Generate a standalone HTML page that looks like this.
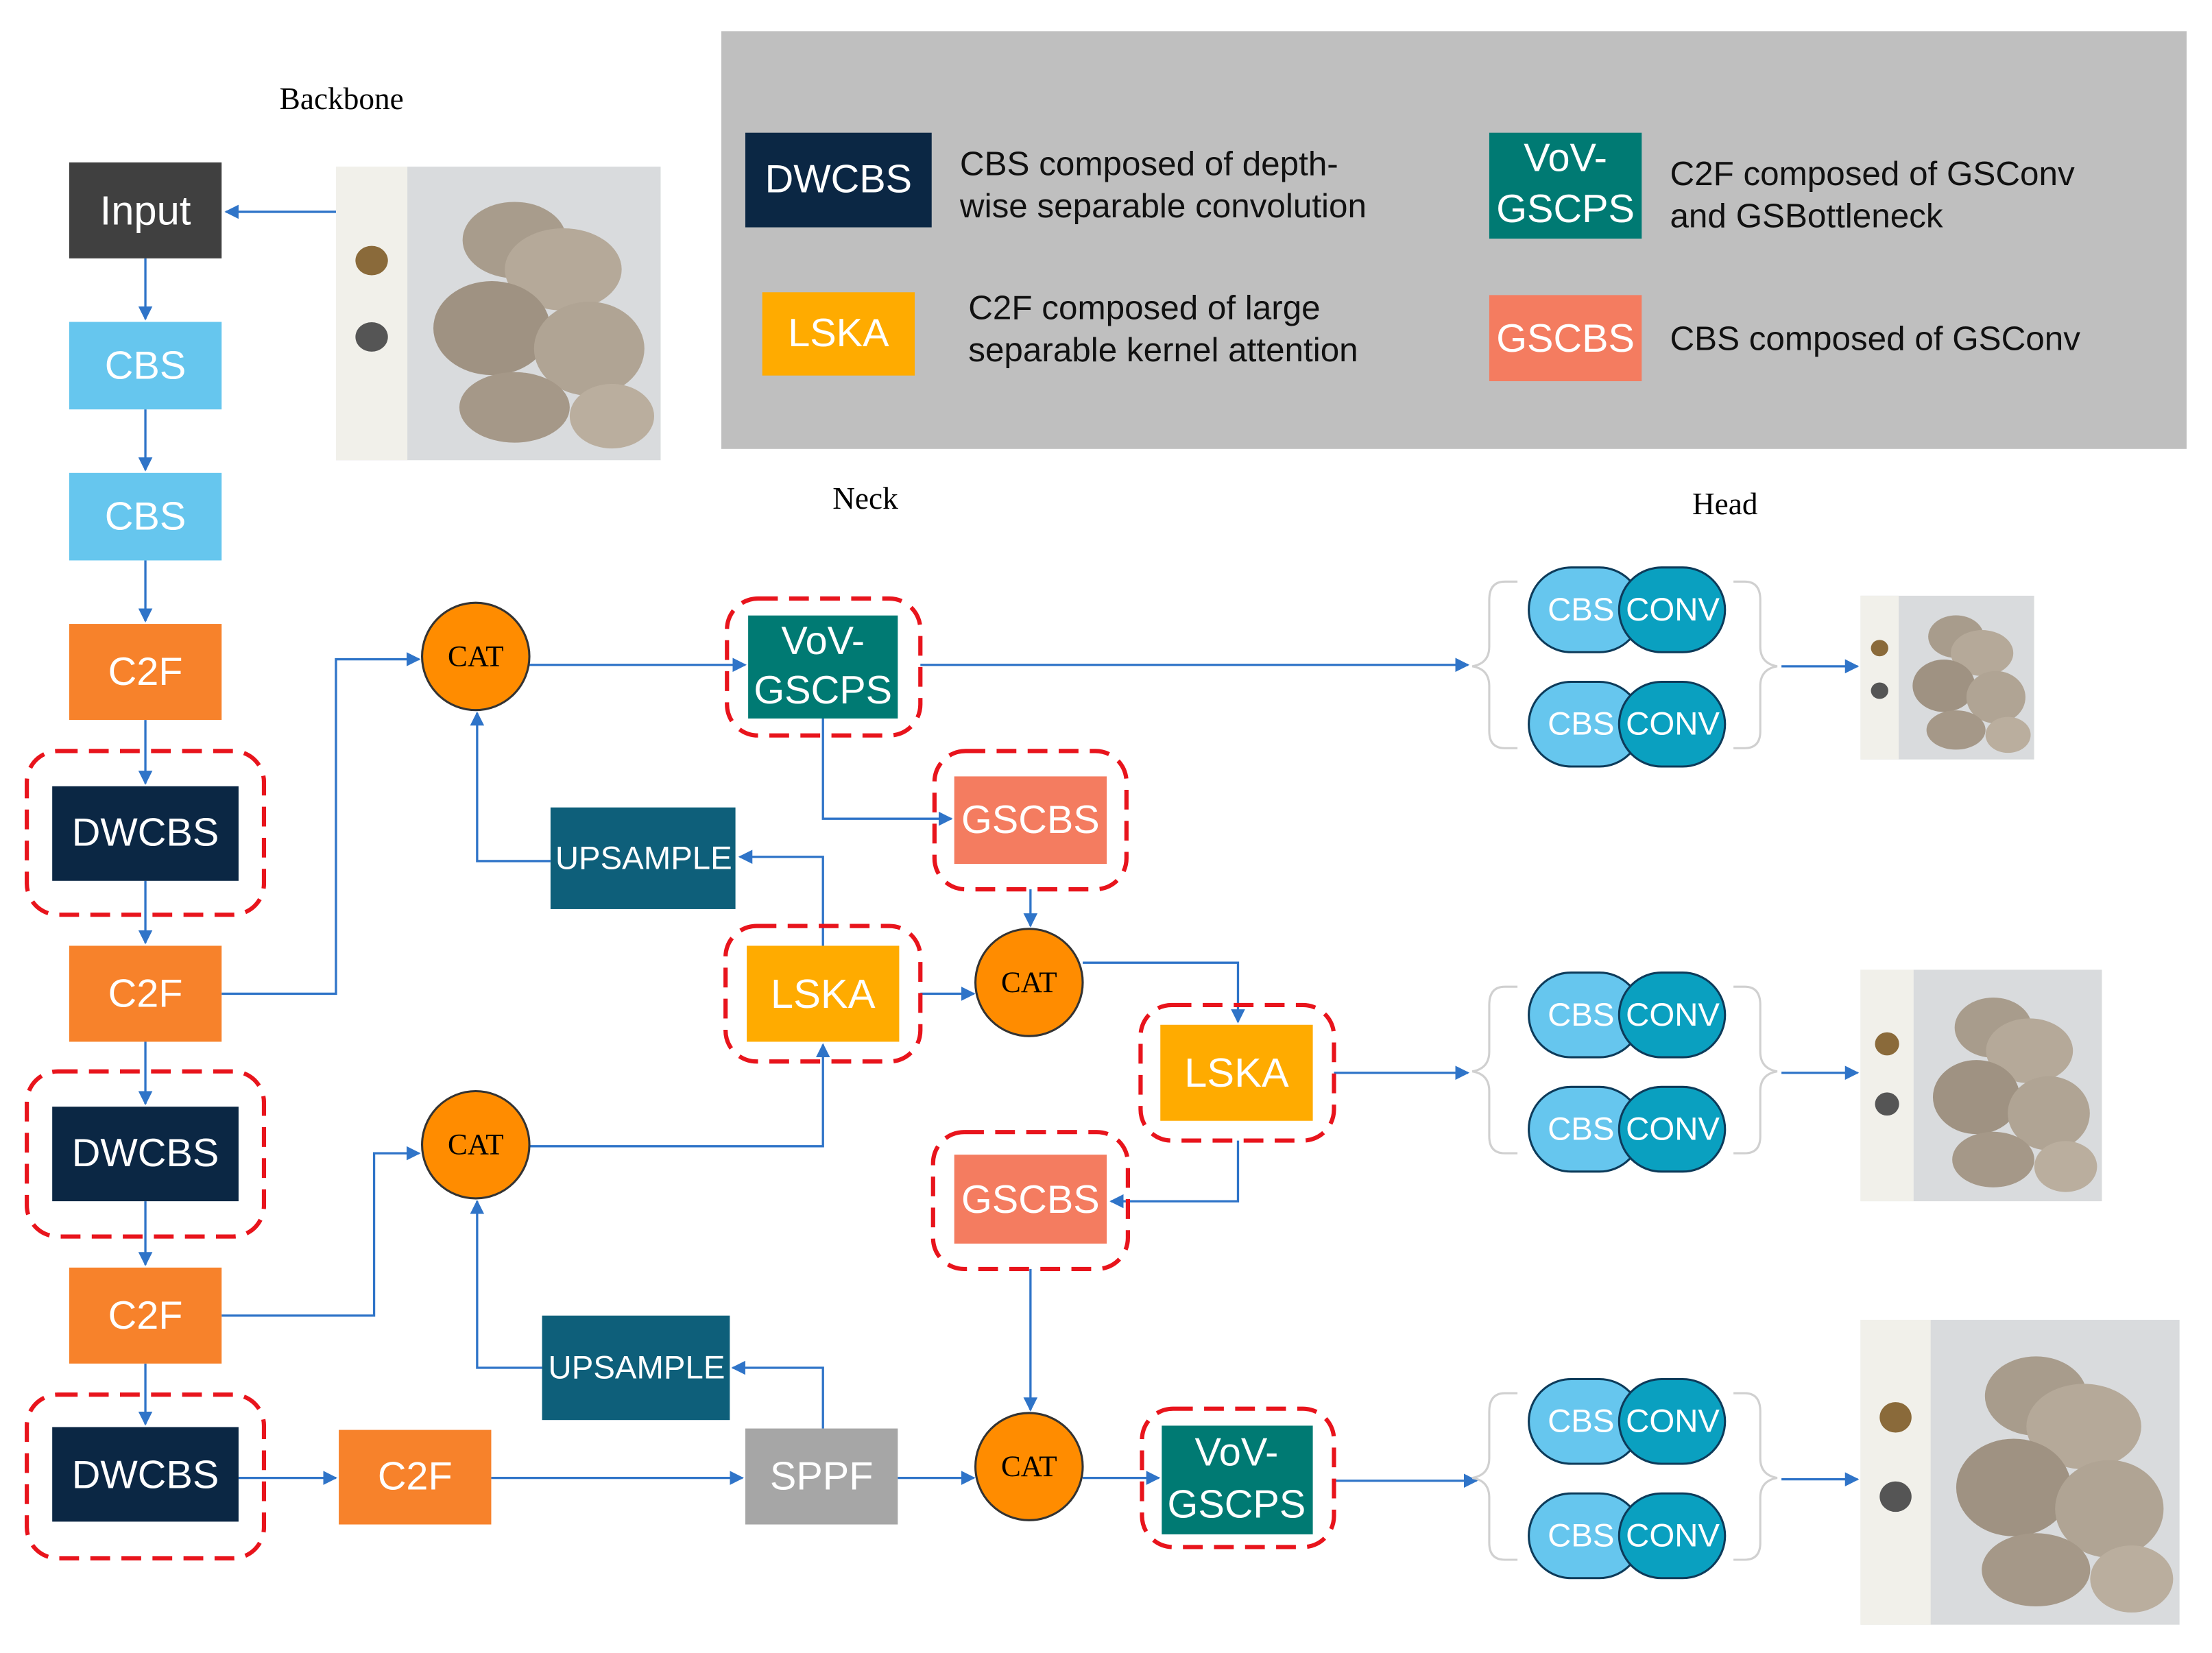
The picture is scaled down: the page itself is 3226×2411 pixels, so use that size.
<!DOCTYPE html>
<html><head><meta charset="utf-8"><style>
html,body{margin:0;padding:0;background:#fff}
svg{display:block}
.t{font-family:"Liberation Sans",sans-serif;fill:#fff;text-anchor:middle;dominant-baseline:central}
.s{font-family:"Liberation Serif",serif;fill:#000;text-anchor:middle;dominant-baseline:central}
.l{font-family:"Liberation Sans",sans-serif;fill:#111;font-size:24px}
.d{fill:none;stroke:#e8141c;stroke-width:3;stroke-dasharray:14,8}
.c{fill:none;stroke:#2f74c8;stroke-width:1.6}
</style></head><body>
<svg width="3226" height="2411" viewBox="0 0 1567 1171" xmlns="http://www.w3.org/2000/svg">
<defs>
<marker id="a" markerWidth="10" markerHeight="10" refX="9" refY="5" orient="auto" markerUnits="userSpaceOnUse"><path d="M0,0 L10,5 L0,10 z" fill="#2f74c8"/></marker>
<g id="mush">
<rect x="0" y="0" width="100" height="100" fill="#d9dbdd"/>
<rect x="0" y="0" width="22" height="100" fill="#f1f0ea"/>
<circle cx="11" cy="32" r="5" fill="#8a6a3a"/><circle cx="11" cy="58" r="5" fill="#555"/>
<ellipse cx="55" cy="25" rx="16" ry="13" fill="#a89c8c"/>
<ellipse cx="70" cy="35" rx="18" ry="14" fill="#b5a999"/>
<ellipse cx="48" cy="55" rx="18" ry="16" fill="#9f9282"/>
<ellipse cx="78" cy="62" rx="17" ry="16" fill="#b0a494"/>
<ellipse cx="55" cy="82" rx="17" ry="12" fill="#a59888"/>
<ellipse cx="85" cy="85" rx="13" ry="11" fill="#baae9e"/>
</g>
</defs>
<rect width="1567" height="1171" fill="#fff"/>
<rect x="511" y="22" width="1038" height="296" fill="#bfbfbf"/>
<rect x="528" y="94" width="132" height="67" fill="#0b2744"/><text class="t" x="594" y="127" font-size="28">DWCBS</text>
<text class="l" x="680" y="124">CBS composed of depth-</text><text class="l" x="680" y="154">wise separable convolution</text>
<rect x="1055" y="94" width="108" height="75" fill="#007a73"/><text class="t" x="1109" y="112" font-size="28">VoV-</text><text class="t" x="1109" y="148" font-size="28">GSCPS</text>
<text class="l" x="1183" y="131">C2F composed of GSConv</text><text class="l" x="1183" y="161">and GSBottleneck</text>
<rect x="540" y="207" width="108" height="59" fill="#ffab00"/><text class="t" x="594" y="236" font-size="28">LSKA</text>
<text class="l" x="686" y="226">C2F composed of large</text><text class="l" x="686" y="256">separable kernel attention</text>
<rect x="1055" y="209" width="108" height="61" fill="#f47c60"/><text class="t" x="1109" y="240" font-size="28">GSCBS</text>
<text class="l" x="1183" y="248">CBS composed of GSConv</text>
<text class="s" x="242" y="70" font-size="22">Backbone</text>
<text class="s" x="613" y="353" font-size="22">Neck</text>
<text class="s" x="1222" y="357" font-size="22">Head</text>
<g transform="translate(238,118) scale(2.3,2.08)"><use href="#mush"/></g>
<g transform="translate(1318,422) scale(1.23,1.16)"><use href="#mush"/></g>
<g transform="translate(1318,687) scale(1.71,1.64)"><use href="#mush"/></g>
<g transform="translate(1318,935) scale(2.26,2.16)"><use href="#mush"/></g>
<g class="c" marker-end="url(#a)">
<path d="M238,150 H160"/>
<path d="M103,183 V226"/><path d="M103,290 V333"/><path d="M103,397 V440"/>
<path d="M103,510 V555"/><path d="M103,624 V668"/><path d="M103,738 V782"/>
<path d="M103,851 V896"/><path d="M103,966 V1009"/>
<path d="M169,1047 H238"/><path d="M348,1047 H526"/>
<path d="M636,1047 H690"/><path d="M767,1047 H821"/>
<path d="M157,704 H238 V467 H297"/>
<path d="M375,471 H528"/>
<path d="M652,471 H1040"/>
<path d="M583,509 V580 H674"/>
<path d="M730,630 V656"/>
<path d="M583,670 V607 H524"/>
<path d="M390,610 H338 V505"/>
<path d="M652,704 H690"/>
<path d="M767,682 H877 V724"/>
<path d="M945,760 H1040"/>
<path d="M877,808 V851 H787"/>
<path d="M157,932 H265 V817 H297"/>
<path d="M375,812 H583 V740"/>
<path d="M583,1012 V969 H519"/>
<path d="M384,969 H338 V851"/>
<path d="M730,899 V999"/>
<path d="M945,1049 H1046"/>
<path d="M1262,472 H1316"/><path d="M1262,760 H1316"/><path d="M1262,1048 H1316"/>
</g>
<rect x="49" y="115" width="108" height="68" fill="#404040"/><text class="t" x="103" y="149" font-size="29">Input</text>
<rect x="49" y="228" width="108" height="62" fill="#66c6ee"/><text class="t" x="103" y="259" font-size="28">CBS</text>
<rect x="49" y="335" width="108" height="62" fill="#66c6ee"/><text class="t" x="103" y="366" font-size="28">CBS</text>
<rect x="49" y="442" width="108" height="68" fill="#f7822b"/><text class="t" x="103" y="476" font-size="28">C2F</text>
<rect x="37" y="557" width="132" height="67" fill="#0b2744"/><text class="t" x="103" y="590" font-size="28">DWCBS</text>
<rect x="19" y="532" width="168" height="116" rx="22" class="d"/>
<rect x="49" y="670" width="108" height="68" fill="#f7822b"/><text class="t" x="103" y="704" font-size="28">C2F</text>
<rect x="37" y="784" width="132" height="67" fill="#0b2744"/><text class="t" x="103" y="817" font-size="28">DWCBS</text>
<rect x="19" y="759" width="168" height="117" rx="22" class="d"/>
<rect x="49" y="898" width="108" height="68" fill="#f7822b"/><text class="t" x="103" y="932" font-size="28">C2F</text>
<rect x="37" y="1011" width="132" height="67" fill="#0b2744"/><text class="t" x="103" y="1045" font-size="28">DWCBS</text>
<rect x="19" y="988" width="168" height="116" rx="22" class="d"/>
<rect x="240" y="1013" width="108" height="67" fill="#f7822b"/><text class="t" x="294" y="1046" font-size="28">C2F</text>
<rect x="528" y="1012" width="108" height="68" fill="#a6a6a6"/><text class="t" x="582" y="1046" font-size="28">SPPF</text>
<g fill="#ff8c00" stroke="#333" stroke-width="1.5">
<circle cx="337" cy="465" r="38"/><circle cx="337" cy="811" r="38"/><circle cx="729" cy="696" r="38"/><circle cx="729" cy="1039" r="38"/></g>
<text class="s" x="337" y="465" font-size="21">CAT</text><text class="s" x="337" y="811" font-size="21">CAT</text>
<text class="s" x="729" y="696" font-size="21">CAT</text><text class="s" x="729" y="1039" font-size="21">CAT</text>
<rect x="530" y="436" width="106" height="73" fill="#007a73"/><text class="t" x="583" y="454" font-size="28">VoV-</text><text class="t" x="583" y="489" font-size="28">GSCPS</text>
<rect x="515" y="424" width="137" height="97" rx="22" class="d"/>
<rect x="676" y="550" width="108" height="62" fill="#f47c60"/><text class="t" x="730" y="581" font-size="28">GSCBS</text>
<rect x="662" y="532" width="136" height="98" rx="22" class="d"/>
<rect x="390" y="572" width="131" height="72" fill="#0e5f7a"/><text class="t" x="456" y="608" font-size="23">UPSAMPLE</text>
<rect x="529" y="670" width="108" height="68" fill="#ffab00"/><text class="t" x="583" y="704" font-size="29">LSKA</text>
<rect x="514" y="656" width="138" height="96" rx="22" class="d"/>
<rect x="822" y="726" width="108" height="68" fill="#ffab00"/><text class="t" x="876" y="760" font-size="29">LSKA</text>
<rect x="808" y="712" width="137" height="96" rx="22" class="d"/>
<rect x="676" y="818" width="108" height="63" fill="#f47c60"/><text class="t" x="730" y="850" font-size="28">GSCBS</text>
<rect x="661" y="802" width="138" height="97" rx="22" class="d"/>
<rect x="384" y="932" width="133" height="74" fill="#0e5f7a"/><text class="t" x="451" y="969" font-size="23">UPSAMPLE</text>
<rect x="823" y="1010" width="107" height="77" fill="#007a73"/><text class="t" x="876" y="1029" font-size="28">VoV-</text><text class="t" x="876" y="1066" font-size="28">GSCPS</text>
<rect x="809" y="998" width="136" height="98" rx="22" class="d"/>
<g id="hd">
<path d="M1075,412 H1066 Q1055,412 1055,425 V458 Q1055,470 1043,472 Q1055,474 1055,486 V518 Q1055,530 1066,530 H1075" fill="none" stroke="#d0d0d0" stroke-width="1.5"/>
<path d="M1228,412 H1236 Q1247,412 1247,425 V458 Q1247,470 1259,472 Q1247,474 1247,486 V518 Q1247,530 1236,530 H1228" fill="none" stroke="#d0d0d0" stroke-width="1.5"/>
<rect x="1083" y="402" width="80" height="60" rx="30" fill="#66c6ee" stroke="#0d3b5a" stroke-width="1.5"/>
<rect x="1147" y="402" width="75" height="60" rx="30" fill="#0aa0c0" stroke="#0d3b5a" stroke-width="1.5"/>
<text class="t" x="1120" y="432" font-size="23">CBS</text><text class="t" x="1185" y="432" font-size="23">CONV</text>
<rect x="1083" y="483" width="80" height="60" rx="30" fill="#66c6ee" stroke="#0d3b5a" stroke-width="1.5"/>
<rect x="1147" y="483" width="75" height="60" rx="30" fill="#0aa0c0" stroke="#0d3b5a" stroke-width="1.5"/>
<text class="t" x="1120" y="513" font-size="23">CBS</text><text class="t" x="1185" y="513" font-size="23">CONV</text>
</g>
<use href="#hd" transform="translate(0,287)"/>
<use href="#hd" transform="translate(0,575)"/>
</svg>
</body></html>
